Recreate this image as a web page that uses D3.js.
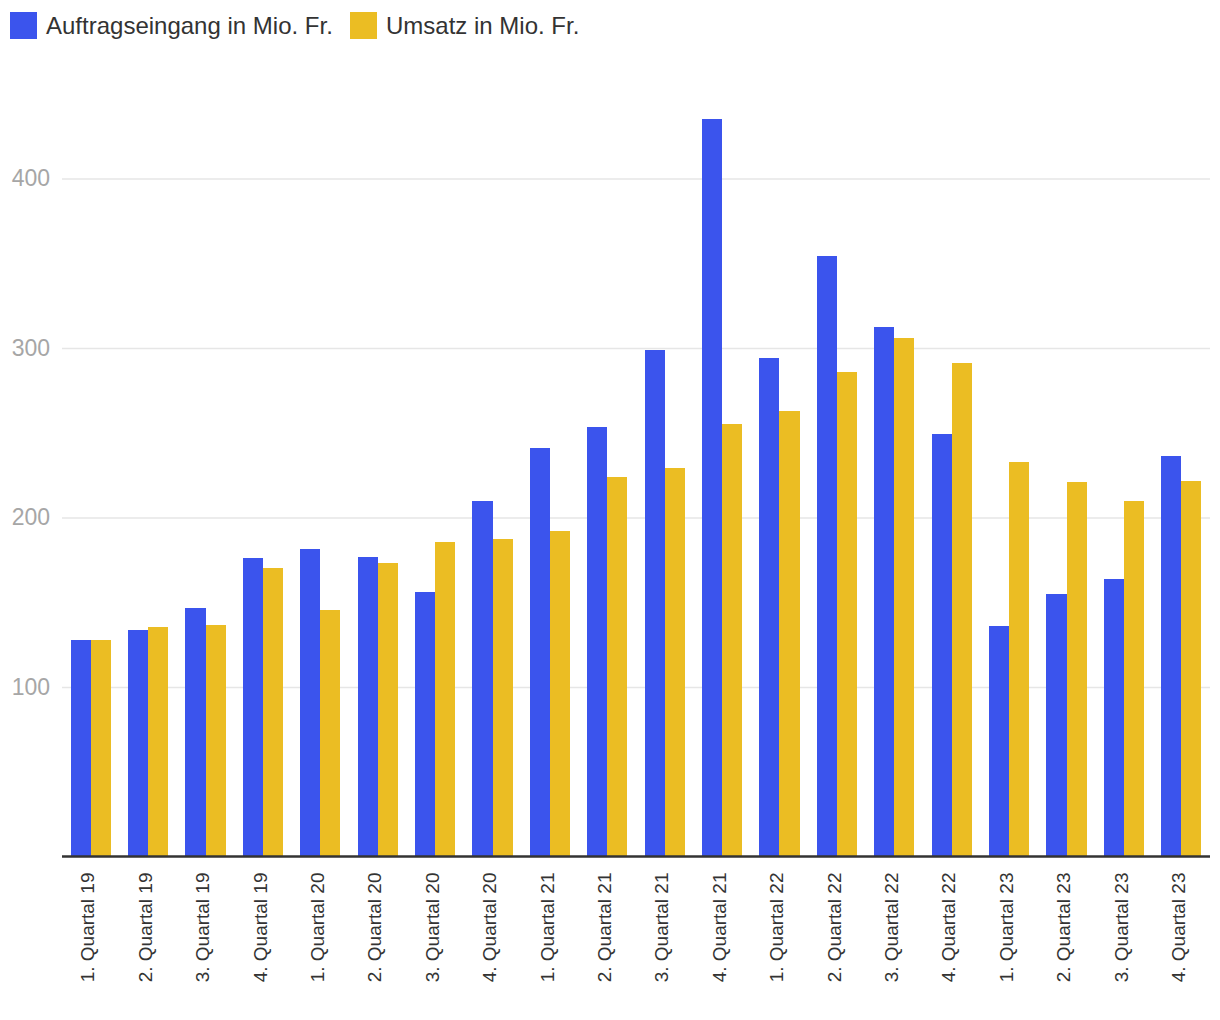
<!DOCTYPE html>
<html>
<head>
<meta charset="utf-8">
<script src="https://cdn.jsdelivr.net/npm/d3@7"></script>
<style>
  html, body { margin: 0; padding: 0; background: #ffffff; }
  svg { display: block; font-family: "Liberation Sans", Arial, Helvetica, sans-serif; }
</style>
</head>
<body>
<svg id="chart" width="1220" height="1020"></svg>
<script>
const categories = [
  "1. Quartal 19", "2. Quartal 19", "3. Quartal 19", "4. Quartal 19",
  "1. Quartal 20", "2. Quartal 20", "3. Quartal 20", "4. Quartal 20",
  "1. Quartal 21", "2. Quartal 21", "3. Quartal 21", "4. Quartal 21",
  "1. Quartal 22", "2. Quartal 22", "3. Quartal 22", "4. Quartal 22",
  "1. Quartal 23", "2. Quartal 23", "3. Quartal 23", "4. Quartal 23"
];
const seriesNames = ["Auftragseingang in Mio. Fr.", "Umsatz in Mio. Fr."];
const auftragseingang = [127.7, 133.6, 146.6, 176.1, 181.4, 176.7, 156.0, 209.7, 241.0, 253.4, 298.8, 435.1, 294.1, 354.3, 312.4, 249.3, 136.0, 154.9, 163.7, 236.3];
const umsatz = [127.7, 135.4, 136.6, 170.2, 145.4, 173.2, 185.5, 187.3, 192.0, 223.9, 229.2, 255.2, 262.8, 285.8, 305.9, 291.2, 232.7, 220.9, 209.7, 221.5];
const yTicks = [100, 200, 300, 400];
const colors = ["#3b54ed", "#ebbd23"];

const svg = d3.select("#chart");
const left = 62, right = 1210, zeroY = 856.5;

const x0 = d3.scaleBand().domain(categories).range([left, right])
  .paddingInner(0.3).paddingOuter(0.15);
const x1 = d3.scaleBand().domain(seriesNames).range([0, x0.bandwidth()]).padding(0);
const y = d3.scaleLinear().domain([0, 450]).range([zeroY, zeroY - 1.695 * 450]);

// gridlines + y labels
const yAxis = d3.axisLeft(y).tickValues(yTicks).tickSize(-(right - left)).tickPadding(12);
const gy = svg.append("g").attr("transform", `translate(${left},0)`).call(yAxis);
gy.select(".domain").remove();
gy.selectAll(".tick line").attr("stroke", "#e6e6e6").attr("stroke-width", 1.7);
gy.selectAll(".tick text").attr("fill", "#a6a6a6").attr("font-size", 23)
  .attr("font-family", "'Liberation Sans', Arial, sans-serif");

// bars
const data = categories.map((c, i) => ({ cat: c, vals: [auftragseingang[i], umsatz[i]] }));
const groups = svg.append("g").selectAll("g").data(data).join("g")
  .attr("transform", d => `translate(${x0(d.cat)},0)`);
groups.selectAll("rect")
  .data(d => d.vals.map((v, j) => ({ name: seriesNames[j], v, j })))
  .join("rect")
  .attr("x", d => x1(d.name))
  .attr("width", x1.bandwidth())
  .attr("y", d => y(d.v))
  .attr("height", d => y(0) - y(d.v))
  .attr("fill", d => colors[d.j])
  .attr("shape-rendering", "crispEdges");

// x axis
const xAxis = d3.axisBottom(x0).tickSize(0).tickPadding(0);
const gx = svg.append("g").attr("transform", `translate(0,${zeroY})`).call(xAxis);
gx.select(".domain").attr("stroke", "#333333").attr("stroke-width", 2.5)
  .attr("d", `M${left},0H${right}`);
gx.selectAll(".tick text")
  .attr("fill", "#333333")
  .attr("font-size", 19)
  .attr("font-family", "'Liberation Sans', Arial, sans-serif")
  .attr("text-anchor", "end")
  .attr("transform", "rotate(-90)")
  .attr("x", -16)
  .attr("y", -3)
  .attr("dy", "0.35em");

// legend
const legendPos = [{ sx: 10, tx: 46 }, { sx: 350, tx: 386 }];
const lg = svg.append("g");
seriesNames.forEach((n, i) => {
  lg.append("rect").attr("x", legendPos[i].sx).attr("y", 12).attr("width", 27).attr("height", 27)
    .attr("fill", colors[i]);
  lg.append("text").attr("x", legendPos[i].tx).attr("y", 34).text(n)
    .attr("font-size", 24).attr("fill", "#333333");
});
</script>
</body>
</html>
